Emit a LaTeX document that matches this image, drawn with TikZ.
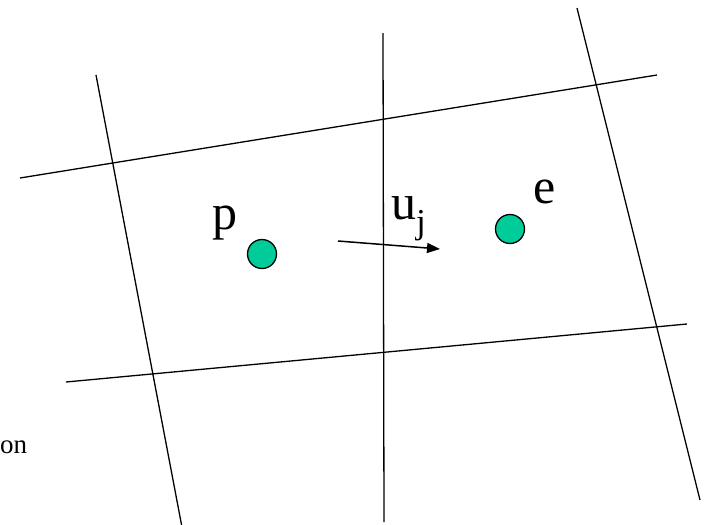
\documentclass[tikz,border=0pt]{standalone}
\usepackage{fontspec}
\setmainfont{Liberation Serif}
\usetikzlibrary{arrows.meta}
\begin{document}
\begin{tikzpicture}[x=1pt,y=-1pt,
  gridline/.style={line width=1.3pt,black},
  dot/.style={circle,draw=black,line width=1.3pt,fill={rgb,255:red,0;green,204;blue,153},minimum size=29pt,inner sep=0pt},
  big/.style={font=\fontsize{50}{54}\selectfont,inner sep=0pt}]
\useasboundingbox (0,0) rectangle (710,525);
% grid lines
\coordinate (h1a) at (20,178); \coordinate (h1b) at (657,75);
\coordinate (h2a) at (66,382); \coordinate (h2b) at (687,324);
\coordinate (v1a) at (96,75);  \coordinate (v1b) at (185,543);
\coordinate (v2a) at (383,33); \coordinate (v2b) at (384,522);
\coordinate (v3a) at (577,8);  \coordinate (v3b) at (700,500);
\draw[gridline] (h1a) -- (h1b);
\draw[gridline] (h2a) -- (h2b);
\draw[gridline] (v1a) -- (v1b);
\draw[gridline] (v2a) -- (v2b);
\draw[gridline] (v3a) -- (v3b);
% points
\node[dot] (pdot) at (262,254) {};
\node[dot] (edot) at (510,229) {};
\node[big,anchor=base west] (plab) at (212,229) {p};
\node[big,anchor=base west] (elab) at (533,203) {e};
\node[big,anchor=base west] (ulab) at (391,219) {u\textsubscript{j}};
% arrow
\coordinate (as) at (338,241); \coordinate (ae) at (440,249);
\draw[line width=1.5pt,-{Triangle[length=13pt,width=10pt]}] (as) -- (ae);
\node[font=\fontsize{27}{30}\selectfont,anchor=base west,inner sep=0pt] (on) at (0,453) {on};
\end{tikzpicture}
\end{document}
